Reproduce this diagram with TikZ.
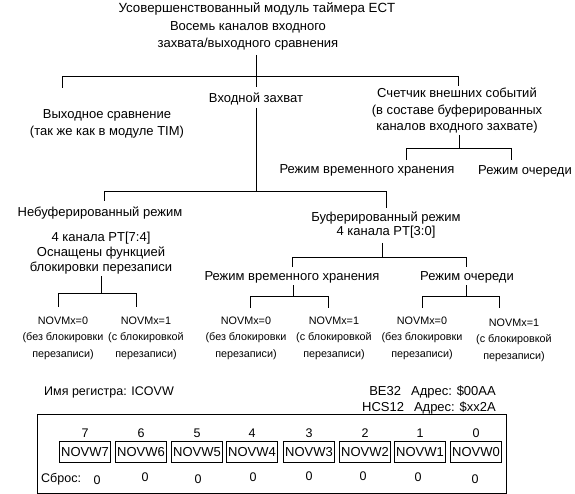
\documentclass[tikz,border=0pt]{standalone}
\usepackage{fontspec}
\setmainfont{Liberation Sans}
\begin{document}
\begin{tikzpicture}[x=1pt,y=-1pt,
  txt/.style={font=\fontsize{13}{16.5}\selectfont, inner sep=0pt, align=center},
  sm/.style={font=\fontsize{10.8}{16.5}\selectfont, inner sep=0pt, align=center},
  reg/.style={font=\fontsize{12.5}{15.5}\selectfont, inner sep=0pt},
  num/.style={font=\fontsize{12.5}{14}\selectfont, inner sep=0pt},
  bitbox/.style={draw, line width=0.8pt, font=\fontsize{13}{14}\selectfont, minimum width=51pt, minimum height=21pt, inner sep=1pt},
  ln/.style={line width=0.8pt}]
\useasboundingbox (0,0) rectangle (575,494);

% ---- texts of the tree
\node[txt, font=\fontsize{13.3}{16.5}\selectfont] (title) at (257,9) {Усовершенствованный модуль таймера ECT};
\node[txt] (sub) at (248,36) {Восемь каналов входного\\захвата/выходного сравнения};
\node[txt] (oc) at (107,124) {Выходное сравнение\\(так же как в модуле TIM)};
\node[txt] (ic) at (256,99) {Входной захват};
\node[txt] (ec) at (457,111) {Счетчик внешних событий\\(в составе буферированных\\каналов входного захвате)};
\node[txt] (ecl) at (367,170) {Режим временного хранения};
\node[txt] (ecq) at (525,171) {Режим очереди};
\node[txt] (unb) at (100,213) {Небуферированный режим};
\node[txt, font=\fontsize{13}{15.2}\selectfont] (unbd) at (101,253) {4 канала PT[7:4]\\Оснащены функцией\\блокировки перезаписи};
\node[txt, font=\fontsize{13}{14.5}\selectfont] (buf) at (386,225) {Буферированный режим\\4 канала PT[3:0]};
\node[txt] (bl) at (292,277) {Режим временного хранения};
\node[txt] (bq) at (467,277) {Режим очереди};

\node[sm] (u0) at (63,338) {NOVMx=0\\(без блокировки\\перезаписи)};
\node[sm] (u1) at (146,338) {NOVMx=1\\(с блокировкой\\перезаписи)};
\node[sm] (l0) at (246,338) {NOVMx=0\\(без блокировки\\перезаписи)};
\node[sm] (l1) at (334,338) {NOVMx=1\\(с блокировкой\\перезаписи)};
\node[sm] (q0) at (422,338) {NOVMx=0\\(без блокировки\\перезаписи)};
\node[sm] (q1) at (514,340) {NOVMx=1\\(с блокировкой\\перезаписи)};

% ---- junction coordinates
\coordinate (a0) at (256,55);  \coordinate (a1) at (256,87);
\coordinate (aL) at (62,76);   \coordinate (aR) at (458,76);
\coordinate (aLd) at (62,88);  \coordinate (aRd) at (458,86);
\coordinate (b0) at (256,108); \coordinate (b1) at (256,191);
\coordinate (bL) at (104,191); \coordinate (bR) at (386,191);
\coordinate (bLd) at (104,201); \coordinate (bRd) at (386,208);
\coordinate (c0) at (459,135); \coordinate (c1) at (459,148);
\coordinate (cL) at (406,148); \coordinate (cR) at (511,148);
\coordinate (cLd) at (406,160); \coordinate (cRd) at (511,160);
\coordinate (d0) at (382,243); \coordinate (d1) at (382,257);
\coordinate (dL) at (292,257); \coordinate (dR) at (466,257);
\coordinate (dLd) at (292,267); \coordinate (dRd) at (466,267);
\coordinate (e0) at (101,276); \coordinate (e1) at (101,293);
\coordinate (eL) at (58,293);  \coordinate (eR) at (136,293);
\coordinate (eLd) at (58,307); \coordinate (eRd) at (136,307);
\coordinate (f0) at (293,285); \coordinate (f1) at (293,296);
\coordinate (fL) at (250,296); \coordinate (fR) at (328,296);
\coordinate (fLd) at (250,308); \coordinate (fRd) at (328,308);
\coordinate (g0) at (466,285); \coordinate (g1) at (466,296);
\coordinate (gL) at (422,296); \coordinate (gR) at (499,296);
\coordinate (gLd) at (422,308); \coordinate (gRd) at (499,308);

\draw[ln] (a0) -- (a1);
\draw[ln] (aLd) -- (aL) -- (aR) -- (aRd);
\draw[ln] (b0) -- (b1);
\draw[ln] (bLd) -- (bL) -- (bR) -- (bRd);
\draw[ln] (c0) -- (c1);
\draw[ln] (cLd) -- (cL) -- (cR) -- (cRd);
\draw[ln] (d0) -- (d1);
\draw[ln] (dLd) -- (dL) -- (dR) -- (dRd);
\draw[ln] (e0) -- (e1);
\draw[ln] (eLd) -- (eL) -- (eR) -- (eRd);
\draw[ln] (f0) -- (f1);
\draw[ln] (fLd) -- (fL) -- (fR) -- (fRd);
\draw[ln] (g0) -- (g1);
\draw[ln] (gLd) -- (gL) -- (gR) -- (gRd);

% ---- register
\node[reg, anchor=west] (regname) at (44,392) {Имя регистра: ICOVW};
\node[reg, anchor=east, align=right, font=\fontsize{13}{15.5}\selectfont] (addr) at (496,400) {BE32\hspace{10pt}Адрес: \$00AA\\HCS12\hspace{10pt}Адрес: \$xx2A};
\node[draw, line width=0.8pt, minimum width=469pt, minimum height=79pt, inner sep=0pt] (regbox) at (271.5,453.5) {};

\foreach \i/\x in {7/85,6/141,5/197,4/252,3/309,2/365,1/420,0/476}{
  \node[num] (n\i) at (\x,433) {\i};
  \node[bitbox] (b\i) at (\x,452) {NOVW\i};
}
\node[reg, anchor=west] (rst) at (41,479) {Сброс:};
\foreach \i/\x/\y in {7/97/480,6/145/477,5/198/479,4/253/477,3/309/476,2/363/476,1/418/477,0/475/479}{
  \node[num] (z\i) at (\x,\y) {0};
}
\end{tikzpicture}
\end{document}
